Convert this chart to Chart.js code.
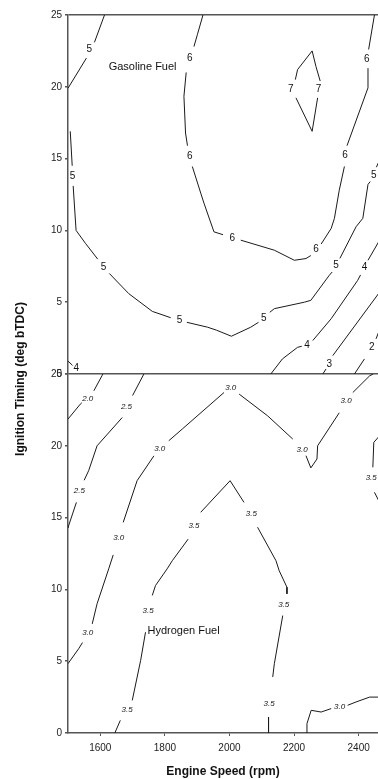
<!DOCTYPE html>
<html>
<head>
<meta charset="utf-8">
<script src="https://cdn.jsdelivr.net/npm/chart.js@4.4.1/dist/chart.umd.min.js"></script>
<style>
  html, body { margin: 0; padding: 0; background: #fff; }
  #wrap { width: 378px; height: 779px; position: relative; }
</style>
</head>
<body>
<div id="wrap"><canvas id="chart"></canvas></div>
<script>
// tick values
const xTicks = [1600, 1800, 2000, 2200, 2400];
const yTicks = [0, 5, 10, 15, 20, 25];

// Gasoline fuel contours [rpm, timing], null = gap for a label
const gas5a = [[1613, 25], [1582, 23.1], null, [1557, 22.0], [1500, 19.9]];
const gas5b = [[1507, 16.9], [1512, 14.9], [1513, 14.5], null, [1516, 13.1], [1525, 10.0], [1554, 9.1], [1592, 8.0], null,
  [1628, 7.0], [1688, 5.6], [1761, 4.36], [1818, 3.92], null, [1868, 3.6], [1932, 3.26], [1960, 3.05], [2006, 2.63],
  [2066, 3.26], [2090, 3.6], null, [2125, 4.3], [2139, 4.55], [2232, 5.0], [2252, 5.13], [2309, 6.87], [2318, 7.1], null,
  [2342, 8.05], [2392, 10.25], [2413, 10.84], [2429, 13.2], [2436, 13.4], null, [2455, 14.4], [2465, 14.9]];
const gas6 = [[1918, 25], [1901, 23.66], [1890, 22.8], null, [1866, 21.0], [1859, 19.34], [1864, 16.78], [1870, 15.9], null,
  [1885, 14.45], [1911, 12.6], [1921, 11.9], [1952, 9.9], [1980, 9.7], null, [2035, 9.32], [2139, 8.62], [2201, 7.92],
  [2237, 8.04], [2252, 8.25], null, [2284, 9.05], [2315, 10.14], [2325, 10.84], [2340, 12.8], [2356, 14.45], null,
  [2364, 15.9], [2429, 19.93], [2429, 21.3], null, [2431, 22.6], [2449, 25]];
const gas7 = [[2206, 19.23], [2256, 16.9], [2273, 19.23], null, [2281, 20.4], [2268, 21.4], [2256, 22.5], [2211, 21.2], [2204, 20.5]];
const gas4 = [[2128, 0], [2164, 1.05], [2211, 1.86], [2224, 1.93], null, [2258, 2.33], [2315, 3.85], [2397, 6.52], [2406, 6.9], null,
  [2429, 7.92], [2465, 9.32]];
const gas4s = [[1500, 0.9], [1514, 0.6]];
const gas3 = [[2289, 0], [2299, 0.35], null, [2320, 1.28], [2465, 5.7]];
const gas2 = [[2387, 0], [2418, 1.05], null, [2454, 2.45], [2465, 3.1]];

const gasLabels = [['5', 1566, 22.6], ['5', 1514, 13.8], ['5', 1610, 7.45], ['5', 1845, 3.73], ['5', 2106, 3.89],
  ['5', 2330, 7.57], ['5', 2447, 13.87], ['6', 1877, 22.0], ['6', 1877, 15.15], ['6', 2009, 9.48], ['6', 2268, 8.67],
  ['6', 2358, 15.2], ['6', 2425, 21.93], ['7', 2190, 19.8], ['7', 2276, 19.8], ['4', 2240, 2.03], ['4', 2418, 7.45],
  ['3', 2309, 0.7], ['2', 2441, 1.86], ['4', 1526, 0.4]];

// Hydrogen fuel contours
const h2_20 = [[1500, 21.86], [1538, 22.9], [1543, 23.0], null, [1580, 23.83], [1605, 24.87], [1608, 25]];
const h2_25 = [[1735, 25], [1700, 23.5], null, [1668, 21.97], [1590, 20.0], [1564, 18.27], [1550, 17.6], null,
  [1526, 16.06], [1502, 14.44], [1500, 14.3]];
const h2_30 = [[1500, 4.83], [1533, 5.87], [1545, 6.3], null, [1575, 7.6], [1590, 9.0], [1626, 11.43], [1640, 12.4], null,
  [1671, 14.67], [1714, 17.57], [1766, 19.3], null, [1812, 20.35], [1854, 21.17], [1983, 23.71], null, [2030, 23.6],
  [2118, 22.09], [2196, 20.47], null, [2237, 19.31], [2252, 18.46], [2271, 19.08], [2273, 20.0], [2340, 22.3], null,
  [2382, 23.71], [2434, 24.87], [2445, 25]];
const h2_35r = [[2465, 20.7], [2447, 20.24], [2444, 18.5], null, [2449, 16.76], [2465, 16.06]];
const h2_35 = [[1645, 0], [1662, 0.88], null, [1699, 2.27], [1725, 5.06], [1740, 7.02], null, [1761, 9.58], [1771, 10.27],
  [1807, 11.43], [1823, 12.0], [1872, 13.5], null, [1911, 15.37], [2002, 17.57], [2045, 16.06], null, [2087, 14.33],
  [2144, 12.0], [2154, 11.3], [2178, 10.15], [2178, 9.69], null, [2165, 8.18], [2139, 4.83], [2134, 3.9], null,
  [2121, 1.11], [2121, 0]];
const h2_30b = [[2240, 0], [2240, 0.65], [2253, 1.58], [2284, 1.46], [2315, 1.7], null, [2366, 1.93], [2392, 2.16],
  [2434, 2.5], [2465, 2.5]];

const h2Labels = [['2.0', 1561, 23.25], ['2.5', 1681, 22.72], ['2.5', 1535, 16.88], ['3.0', 1561, 6.95], ['3.0', 1657, 13.6],
  ['3.0', 1784, 19.78], ['3.0', 2004, 24.02], ['3.0', 2225, 19.71], ['3.0', 2361, 23.14], ['3.5', 2439, 17.8],
  ['3.5', 1683, 1.63], ['3.5', 1748, 8.48], ['3.5', 1890, 14.44], ['3.5', 2068, 15.26], ['3.5', 2168, 8.93],
  ['3.5', 2123, 2.0], ['3.0', 2341, 1.86]];

const panelTitles = [['Gasoline Fuel', 1731, 21.4, 'yTop'], ['Hydrogen Fuel', 1858, 7.14, 'yBot']];

Chart.defaults.font.family = "'Liberation Sans', Arial, sans-serif";
Chart.defaults.color = '#222';

function toPts(arr) {
  let lastX = 1500;
  return arr.map(p => {
    if (!p) return { x: lastX, y: null };
    lastX = p[0];
    return { x: p[0], y: p[1] };
  });
}

const gasLines = [gas5a, gas5b, gas6, gas7, gas4, gas4s, gas3, gas2];
const h2Lines = [h2_20, h2_25, h2_30, h2_35r, h2_35, h2_30b];

const datasets = [];
gasLines.forEach(l => datasets.push({ data: toPts(l), yAxisID: 'yTop' }));
h2Lines.forEach(l => datasets.push({ data: toPts(l), yAxisID: 'yBot' }));
datasets.forEach(d => {
  d.borderColor = '#1a1a1a';
  d.borderWidth = 1;
  d.pointRadius = 0;
  d.spanGaps = false;
  d.tension = 0;
});

const contourText = {
  id: 'contourText',
  afterDatasetsDraw(chart) {
    const { ctx, chartArea, scales } = chart;
    ctx.save();
    ctx.beginPath();
    ctx.rect(chartArea.left, chartArea.top, chartArea.right - chartArea.left, chartArea.bottom - chartArea.top);
    ctx.clip();
    ctx.fillStyle = '#111';
    ctx.textAlign = 'center';
    ctx.textBaseline = 'middle';
    ctx.font = "10px 'Liberation Sans', Arial, sans-serif";
    gasLabels.forEach(([t, x, y]) => ctx.fillText(t, scales.x.getPixelForValue(x), scales.yTop.getPixelForValue(y)));
    ctx.font = "italic 8px 'Liberation Sans', Arial, sans-serif";
    h2Labels.forEach(([t, x, y]) => ctx.fillText(t, scales.x.getPixelForValue(x), scales.yBot.getPixelForValue(y)));
    ctx.font = "11px 'Liberation Sans', Arial, sans-serif";
    panelTitles.forEach(([t, x, y, ax]) => ctx.fillText(t, scales.x.getPixelForValue(x), scales[ax].getPixelForValue(y)));
    ctx.restore();

    // y axis title spanning both panels
    ctx.save();
    ctx.translate(21, (chartArea.top + chartArea.bottom) / 2 + 5);
    ctx.rotate(-Math.PI / 2);
    ctx.font = "bold 12px 'Liberation Sans', Arial, sans-serif";
    ctx.fillStyle = '#111';
    ctx.textAlign = 'center';
    ctx.textBaseline = 'middle';
    ctx.fillText('Ignition Timing (deg bTDC)', 0, 0);
    ctx.restore();
  }
};

function yAxis(showLines) {
  return {
    type: 'linear',
    min: 0,
    max: 25,
    position: 'left',
    stack: 'fuel',
    stackWeight: 1,
    afterBuildTicks: s => { s.ticks = yTicks.map(v => ({ value: v })); },
    afterFit: s => { s.width = 68; },
    ticks: { font: { size: 10 }, color: '#222', padding: 3 },
    grid: {
      color: c => (showLines && c.tick && (c.tick.value === 0 || c.tick.value === 25)) ? '#555' : 'rgba(0,0,0,0)',
      lineWidth: 1.5,
      tickColor: '#555',
      tickLength: 3
    },
    border: { color: '#555', width: 1.5 }
  };
}

new Chart(document.getElementById('chart'), {
  type: 'line',
  data: { datasets },
  options: {
    responsive: true,
    maintainAspectRatio: false,
    animation: false,
    layout: { padding: { top: 15, right: 0, bottom: 0, left: 0 } },
    scales: {
      x: {
        type: 'linear',
        min: 1500,
        max: 2460,
        afterBuildTicks: s => { s.ticks = xTicks.map(v => ({ value: v })); },
        afterFit: s => { s.height = 46; },
        ticks: { font: { size: 10 }, color: '#222', padding: 6, callback: v => String(v) },
        grid: { drawOnChartArea: false, color: '#555', tickLength: 3 },
        border: { color: '#555', width: 1.5 },
        title: { display: true, text: 'Engine Speed (rpm)', font: { size: 12, weight: 'bold' }, color: '#111', padding: { top: 0, bottom: 0 } }
      },
      // stacked axes: the one listed first is placed at the bottom
      yBot: yAxis(false),
      yTop: yAxis(true)
    },
    plugins: {
      legend: { display: false },
      tooltip: { enabled: false }
    }
  },
  plugins: [contourText]
});
</script>
</body>
</html>
